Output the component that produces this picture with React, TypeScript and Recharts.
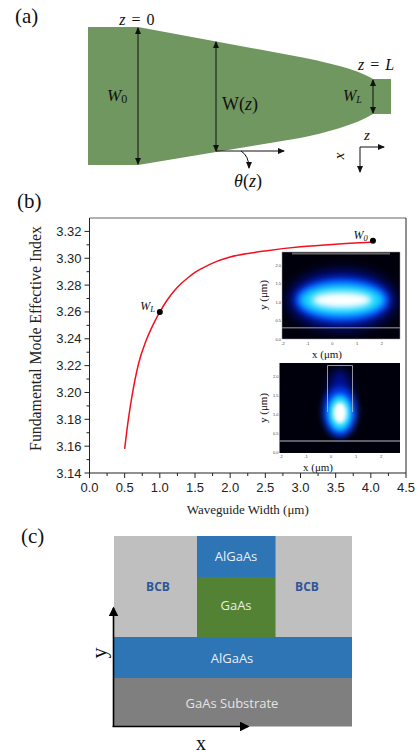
import { ComposedChart, Line, Scatter, XAxis, YAxis, ReferenceLine, LabelList } from 'recharts';

// waveguide width (um) vs effective index
const widths = [0.5, 0.55, 0.6, 0.7, 0.8, 0.9, 1.0, 1.1, 1.2, 1.3, 1.4, 1.5, 1.6, 1.8, 2.0, 2.3, 2.5, 3.0, 3.5, 4.0];
const indices = [3.158, 3.179, 3.196, 3.222, 3.238, 3.25, 3.26, 3.2685, 3.2755, 3.281, 3.2855, 3.2895, 3.2925, 3.2975, 3.301, 3.304, 3.3055, 3.3085, 3.3105, 3.312];

const markerWidths = [1.0, 4.03];
const markerIndices = [3.26, 3.313];
const markerNames = ['L', '0'];

const xMajor = [0, 0.5, 1, 1.5, 2, 2.5, 3, 3.5, 4, 4.5];
const xMinor = [0.25, 0.75, 1.25, 1.75, 2.25, 2.75, 3.25, 3.75, 4.25];
const yMajor = [3.14, 3.16, 3.18, 3.2, 3.22, 3.24, 3.26, 3.28, 3.3, 3.32];
const yMinor = [3.15, 3.17, 3.19, 3.21, 3.23, 3.25, 3.27, 3.29, 3.31];

// tiny tick labels of the two mode plots
const insetXLabels = ['-2', '-1', '0', '1', '2'];
const insetYLabels = ['2.0', '1.5', '1.0', '0.5', '0.0'];

const curve = widths.map((w, i) => ({ w, n: indices[i] }));
const markers = markerWidths.map((w, i) => ({ w, n: markerIndices[i], name: markerNames[i] }));

const SERIF = '"Liberation Serif", serif';
const SANS = '"Liberation Sans", sans-serif';
const CALIBRI = '"Open Sans", sans-serif';
const TAPER = '#70975f';

function XTick({ x, y, payload }: any) {
  const major = xMajor.includes(payload.value);
  return (
    <g>
      <line x1={x} x2={x} y1={y} y2={y + (major ? 5 : 3)} stroke="#222" />
      {major && (
        <text x={x} y={y + 19} textAnchor="middle" fontSize={13} fontFamily={SANS} fill="#222">
          {payload.value.toFixed(1)}
        </text>
      )}
    </g>
  );
}

function YTick({ x, y, payload }: any) {
  const major = yMajor.includes(payload.value);
  return (
    <g>
      <line x1={x - (major ? 5 : 3)} x2={x} y1={y} y2={y} stroke="#222" />
      {major && (
        <text x={x - 8} y={y + 4.5} textAnchor="end" fontSize={13} fontFamily={SANS} fill="#222">
          {payload.value.toFixed(2)}
        </text>
      )}
    </g>
  );
}

function MarkerLabel({ x, y, index }: any) {
  return (
    <text x={x - 15} y={y + 3} fontSize={12} fontStyle="italic" fontFamily={SERIF} fill="#111">
      W<tspan fontSize={8.5} dy={2}>{markers[index].name}</tspan>
    </text>
  );
}

function Arrow({ x1, y1, x2, y2, id }: any) {
  return <line x1={x1} y1={y1} x2={x2} y2={y2} stroke="#111" strokeWidth={1} markerEnd={`url(#${id})`} />;
}

function PanelA() {
  return (
    <svg width={419} height={200} style={{ position: 'absolute', left: 0, top: 0 }}>
      <defs>
        <marker id="ah" markerWidth="7" markerHeight="6" refX="6" refY="3" orient="auto-start-reverse">
          <path d="M0,0 L7,3 L0,6 Z" fill="#111" />
        </marker>
      </defs>
      <path
        d="M88,27 L138,27 L300,57 C335,64 358,70 373,79 L391,79 L391,114 L373,114 C355,125 325,133 300,138 L138,165 L88,165 Z"
        fill={TAPER}
        style={{ filter: 'blur(0.4px)' }}
      />
      <line x1={138} y1={28} x2={138} y2={164} stroke="#111" markerEnd="url(#ah)" markerStart="url(#ah)" />
      <line x1={216} y1={42} x2={216} y2={151} stroke="#111" markerEnd="url(#ah)" markerStart="url(#ah)" />
      <line x1={373} y1={80} x2={373} y2={113} stroke="#111" markerEnd="url(#ah)" markerStart="url(#ah)" />
      <Arrow x1={216} y1={151} x2={284} y2={151} id="ah" />
      <path d="M241,151 Q249,156 249,168" fill="none" stroke="#111" markerEnd="url(#ah)" />
      <Arrow x1={360} y1={147} x2={384} y2={147} id="ah" />
      <Arrow x1={360} y1={147} x2={360} y2={172} id="ah" />
      <g fontFamily={SERIF} fill="#111">
        <text x={15} y={23} fontSize={21}>(a)</text>
        <text x={137} y={25} fontSize={16} textAnchor="middle" wordSpacing={2}><tspan fontStyle="italic">z</tspan> = 0</text>
        <text x={376} y={70} fontSize={16} textAnchor="middle" wordSpacing={2}><tspan fontStyle="italic">z</tspan> = <tspan fontStyle="italic">L</tspan></text>
        <text x={107} y={101} fontSize={17} fontStyle="italic">W<tspan fontSize={12} dy={2} fontStyle="normal">0</tspan></text>
        <text x={222} y={110} fontSize={18}>W(<tspan fontStyle="italic">z</tspan>)</text>
        <text x={343} y={101} fontSize={16} fontStyle="italic">W<tspan fontSize={10} dy={2}>L</tspan></text>
        <text x={248} y={187} fontSize={18} textAnchor="middle"><tspan fontStyle="italic">θ</tspan>(<tspan fontStyle="italic">z</tspan>)</text>
        <text x={367} y={140} fontSize={15} fontStyle="italic" textAnchor="middle">z</text>
        <text x={0} y={0} fontSize={15} fontStyle="italic" textAnchor="middle" transform="translate(344,156) rotate(-90)">x</text>
      </g>
    </svg>
  );
}

function Insets() {
  return (
    <svg width={419} height={300} style={{ position: 'absolute', left: 0, top: 190 }}>
      <defs>
        <clipPath id="wide"><rect x={282} y={62} width={118} height={87} /></clipPath>
        <clipPath id="narrow"><rect x={279.5} y={173} width={120.5} height={90} /></clipPath>
      </defs>
      <text x={17} y={18} fontSize={21} fontFamily={SERIF} fill="#111">(b)</text>
      {/* wide mode */}
      <rect x={282} y={62} width={118} height={87} fill="#00000c" stroke="#999" strokeWidth={0.5} />
      <g clipPath="url(#wide)">
        <ellipse cx={342} cy={110} rx={54} ry={30} fill="#000f90" style={{ filter: 'blur(6px)' }} />
        <ellipse cx={342} cy={110} rx={47} ry={22} fill="#0050ff" style={{ filter: 'blur(3px)' }} />
        <ellipse cx={342} cy={110} rx={42} ry={16} fill="#18d4ff" style={{ filter: 'blur(3px)' }} />
        <ellipse cx={342} cy={110} rx={30} ry={8} fill="#ffffff" style={{ filter: 'blur(3px)' }} />
      </g>
      <rect x={292} y={62.5} width={98} height={2} fill="#666" />
      <rect x={282} y={137} width={118} height={1.5} fill="#6a6a7a" />
      {/* narrow mode */}
      <rect x={279.5} y={173} width={120.5} height={90} fill="#00000c" />
      <g clipPath="url(#narrow)">
        <ellipse cx={340} cy={212} rx={13} ry={33} fill="#000f90" style={{ filter: 'blur(5px)' }} />
        <ellipse cx={340} cy={222} rx={17} ry={25} fill="#0040f0" style={{ filter: 'blur(3px)' }} />
        <ellipse cx={340} cy={223} rx={12} ry={18} fill="#18d4ff" style={{ filter: 'blur(2.5px)' }} />
        <ellipse cx={340} cy={223} rx={7} ry={11} fill="#ffffff" style={{ filter: 'blur(2px)' }} />
      </g>
      <path d="M327.5,222 V175.5 H352.5 V222" fill="none" stroke="#bbb" strokeWidth={0.8} />
      <rect x={279.5} y={250.5} width={120.5} height={1} fill="#bbb" />
      <g fontFamily={SANS} fontSize={4} fill="#444">
        {insetXLabels.map((t, i) => (
          <text key={`a${t}`} x={283 + i * 24.7} y={155} textAnchor="middle">{t}</text>
        ))}
        {insetYLabels.map((t, i) => (
          <text key={`b${t}`} x={281} y={76.5 + i * 18.5} textAnchor="end">{t}</text>
        ))}
        {insetXLabels.map((t, i) => (
          <text key={`c${t}`} x={281 + i * 25} y={268} textAnchor="middle">{t}</text>
        ))}
        {insetYLabels.map((t, i) => (
          <text key={`d${t}`} x={278.5} y={187.5 + i * 19.2} textAnchor="end">{t}</text>
        ))}
      </g>
      <g fontFamily={SERIF} fontSize={11} fill="#111" textAnchor="middle">
        <text x={327} y={168}>x (μm)</text>
        <text x={318} y={281}>x (μm)</text>
        <text transform="translate(267,105) rotate(-90)">y (μm)</text>
        <text transform="translate(267,218) rotate(-90)">y (μm)</text>
      </g>
    </svg>
  );
}

function PanelC() {
  return (
    <svg width={419} height={233} style={{ position: 'absolute', left: 0, top: 520 }}>
      <defs>
        <marker id="ck" markerWidth="6" markerHeight="6" refX="5" refY="3" orient="auto">
          <path d="M0,0 L6,3 L0,6 Z" fill="#000" />
        </marker>
      </defs>
      <g style={{ filter: 'blur(0.3px)' }}>
        <rect x={114} y={16} width={238} height={101} fill="#bfbfbf" />
        <rect x={197} y={16} width={78.5} height={41} fill="#2e75b6" />
        <rect x={197} y={57} width={78.5} height={60} fill="#548235" />
        <rect x={114} y={117} width={238} height={41} fill="#2e75b6" />
        <rect x={114} y={158} width={238} height={48.5} fill="#7f7f7f" />
      </g>
      <line x1={113.5} y1={206.5} x2={113.5} y2={88} stroke="#000" strokeWidth={1.6} markerEnd="url(#ck)" />
      <line x1={112.5} y1={206.5} x2={248} y2={206.5} stroke="#000" strokeWidth={1.6} markerEnd="url(#ck)" />
      <g fontFamily={CALIBRI} fontSize={13} textAnchor="middle">
        <text x={158} y={71} fontSize={12} fontWeight={700} fill="#2f5597">BCB</text>
        <text x={307} y={71} fontSize={12} fontWeight={700} fill="#2f5597">BCB</text>
        <text x={236} y={41} fill="#e8f0f8">AlGaAs</text>
        <text x={236} y={90} fill="#e8f0e0">GaAs</text>
        <text x={232} y={143} fill="#e8f0f8">AlGaAs</text>
        <text x={232} y={188} fill="#e4e4e4">GaAs Substrate</text>
      </g>
      <g fontFamily={SERIF} fill="#111" textAnchor="middle">
        <text x={21} y={23} fontSize={21} textAnchor="start">(c)</text>
        <text x={201} y={230} fontSize={20}>x</text>
        <text transform="translate(106,133) rotate(-90)" fontSize={22}>y</text>
      </g>
    </svg>
  );
}

export default function App() {
  return (
    <div style={{ position: 'absolute', left: 0, top: 0, width: 419, height: 753, background: '#fff', overflow: 'hidden' }}>
      <PanelA />
      <div style={{ position: 'absolute', left: 0, top: 0 }}>
        <ComposedChart width={419} height={753} margin={{ top: 218, right: 13, bottom: 240, left: 0 }}>
          <XAxis
            dataKey="w"
            type="number"
            domain={[0, 4.5]}
            ticks={[...xMajor, ...xMinor].sort((a, b) => a - b)}
            interval={0}
            height={40}
            tickSize={0}
            tickMargin={0}
            tickLine={false}
            tick={<XTick />}
            axisLine={{ stroke: '#222' }}
            label={{ value: 'Waveguide Width (μm)', position: 'insideBottom', offset: -1, fontSize: 13, fontFamily: SERIF, fill: '#222' }}
          />
          <YAxis
            dataKey="n"
            type="number"
            domain={[3.14, 3.33]}
            ticks={[...yMajor, ...yMinor].sort((a, b) => a - b)}
            interval={0}
            width={89.5}
            tickSize={0}
            tickMargin={0}
            tickLine={false}
            tick={<YTick />}
            axisLine={{ stroke: '#222' }}
            label={{ value: 'Fundamental Mode Effective Index', angle: -90, position: 'insideLeft', offset: 35, dy: -7, fontSize: 15.8, fontFamily: SERIF, fill: '#222', style: { textAnchor: 'middle' } }}
          />
          <ReferenceLine y={3.33} stroke="#666" strokeWidth={1.2} />
          <ReferenceLine x={4.5} stroke="#222" strokeWidth={1} />
          <Line data={curve} dataKey="n" stroke="#f01020" strokeWidth={1.5} dot={false} type="monotone" isAnimationActive={false} />
          <Scatter data={markers} dataKey="n" fill="#000" shape={(p: any) => <circle cx={p.cx} cy={p.cy} r={3} fill="#000" />} isAnimationActive={false}>
            <LabelList dataKey="n" content={<MarkerLabel />} />
          </Scatter>
        </ComposedChart>
      </div>
      <Insets />
      <PanelC />
    </div>
  );
}
